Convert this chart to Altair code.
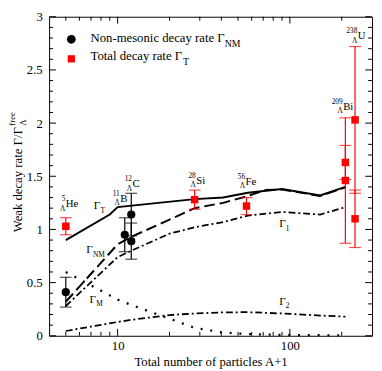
import altair as alt
import pandas as pd

FONT = "Liberation Serif"

# ---------------- theory curves: A+1 and Gamma/Gamma_Lambda^free ----------------
T_x = [5, 9, 10, 28, 41, 57, 90, 150, 210]
T_y = [0.90, 1.14, 1.21, 1.285, 1.30, 1.345, 1.38, 1.32, 1.40]
NM_x = [5, 10, 12, 28, 41, 57, 72, 90, 150, 210]
NM_y = [0.32, 0.86, 0.93, 1.20, 1.25, 1.315, 1.37, 1.375, 1.315, 1.395]
G1_x = [5, 10, 12, 20, 28, 41, 57, 90, 150, 210]
G1_y = [0.28, 0.74, 0.80, 0.96, 1.02, 1.07, 1.13, 1.165, 1.14, 1.21]
M_x = [5, 9, 10, 12, 28, 41, 57, 90, 150, 210]
M_y = [0.60, 0.38, 0.34, 0.29, 0.075, 0.03, 0.016, 0.008, 0.005, 0.004]
G2_x = [5, 10, 12, 20, 28, 41, 57, 90, 150, 210]
G2_y = [0.045, 0.13, 0.15, 0.195, 0.21, 0.22, 0.222, 0.21, 0.19, 0.18]

# ---------------- experimental points ----------------
NMp_x = [5, 11, 12, 12]
NMp_y = [0.41, 0.95, 1.14, 0.89]
NMp_err = [0.14, 0.16, 0.20, 0.17]
Tp_x = [5, 28, 56, 210, 210, 239, 239]
Tp_y = [1.03, 1.28, 1.22, 1.63, 1.46, 2.03, 1.10]
Tp_err = [0.08, 0.09, 0.08, 0.16, 0.59, 0.69, 0.27]

# ---------------- annotations ----------------
nuc_sym = ["He", "B", "C", "Si", "Fe", "Bi", "U"]
nuc_mass = ["5", "11", "12", "28", "56", "209", "238"]
nuc_x = [5.0, 10.35, 12.2, 28.6, 55.3, 204, 248]
nuc_y = [1.21, 1.26, 1.398, 1.428, 1.419, 2.124, 2.79]

gam_sub = ["T", "NM", "M", "1", "2"]
gam_x = [7.27, 6.58, 6.87, 86.7, 86.7]
gam_y = [1.188, 0.774, 0.309, 1.022, 0.293]

# ---------------- axis ticks ----------------
x_major = [10, 100]
x_minor = [5, 6, 7, 8, 9, 20, 30, 40, 50, 60, 70, 80, 90, 200]
y_major = [0, 0.5, 1, 1.5, 2, 2.5, 3]
y_minor = [round(i * 0.1, 1) for i in range(31) if i % 5 != 0]

W, H = 330, 326

xscale = alt.Scale(type="log", domain=[4, 300], nice=False)
yscale = alt.Scale(domain=[0, 3], nice=False, zero=False)
xaxis = alt.Axis(values=x_major, format="d", ticks=False, domain=False, grid=False,
                 labelFont=FONT, labelFontSize=13, labelColor="black", labelPadding=4,
                 labelFlush=False, title="Total number of particles A+1", titleFont=FONT,
                 titleFontSize=13, titleFontWeight="normal", titleColor="black", titlePadding=3)
yaxis = alt.Axis(values=y_major, format="~g", ticks=False, domain=False, grid=False,
                 labelFont=FONT, labelFontSize=13, labelColor="black", labelPadding=7,
                 title=None)


def X(f):
    return alt.X(f, type="quantitative", scale=xscale, axis=xaxis)


def Y(f):
    return alt.Y(f, type="quantitative", scale=yscale, axis=yaxis)


def curve(xs, ys, **kw):
    df = pd.DataFrame({"x": xs, "y": ys})
    return alt.Chart(df).mark_line(color="black", **kw).encode(x=X("x"), y=Y("y"))


layers = []
layers.append(curve(M_x, M_y, strokeWidth=2.3, strokeDash=[2, 8]))
layers.append(curve(G2_x, G2_y, strokeWidth=1.8, strokeDash=[7, 3, 2, 3]))
layers.append(curve(G1_x, G1_y, strokeWidth=1.8, strokeDash=[7, 3, 2, 3]))
layers.append(curve(NM_x, NM_y, strokeWidth=2, strokeDash=[11, 5]))
layers.append(curve(T_x, T_y, strokeWidth=2))


def errbars(xs, ys, es, color):
    df = pd.DataFrame({"x": xs, "y": ys, "e": es})
    df["lo"] = df["y"] - df["e"]
    df["hi"] = df["y"] + df["e"]
    caps = pd.DataFrame({"x": list(df["x"]) * 2, "c": list(df["lo"]) + list(df["hi"])})
    r = alt.Chart(df).mark_rule(color=color, strokeWidth=1.2).encode(
        x=X("x"), y=Y("lo"), y2="hi")
    c = alt.Chart(caps).mark_tick(color=color, orient="horizontal", size=12, thickness=1.2).encode(
        x=X("x"), y=Y("c"))
    return [r, c]


layers += errbars(NMp_x, NMp_y, NMp_err, "black")
layers += errbars(Tp_x, Tp_y, Tp_err, "#ff0000")

layers.append(alt.Chart(pd.DataFrame({"x": NMp_x, "y": NMp_y})).mark_point(
    shape="circle", filled=True, size=70, color="black", opacity=1).encode(x=X("x"), y=Y("y")))
layers.append(alt.Chart(pd.DataFrame({"x": Tp_x, "y": Tp_y})).mark_square(
    size=58, color="#ff0000", opacity=1).encode(x=X("x"), y=Y("y")))

# nucleus labels
nuc = pd.DataFrame({"x": nuc_x, "y": nuc_y, "s": nuc_sym, "m": nuc_mass, "l": ["Λ"] * len(nuc_sym)})
layers.append(alt.Chart(nuc).mark_text(font=FONT, fontSize=11, align="left", baseline="alphabetic",
                                      color="black").encode(x=X("x"), y=Y("y"), text="s:N"))
layers.append(alt.Chart(nuc).mark_text(font=FONT, fontSize=7.5, align="right", baseline="alphabetic",
                                      dx=-0.5, dy=-6, color="black").encode(x=X("x"), y=Y("y"), text="m:N"))
layers.append(alt.Chart(nuc).mark_text(font=FONT, fontSize=7.5, align="right", baseline="alphabetic",
                                      dx=-0.5, dy=3.5, color="black").encode(x=X("x"), y=Y("y"), text="l:N"))

# Gamma labels
gam = pd.DataFrame({"x": gam_x, "y": gam_y, "s": gam_sub, "g": ["Γ"] * len(gam_sub)})
layers.append(alt.Chart(gam).mark_text(font=FONT, fontSize=11.5, align="left", baseline="alphabetic",
                                      color="black").encode(x=X("x"), y=Y("y"), text="g:N"))
layers.append(alt.Chart(gam).mark_text(font=FONT, fontSize=7.5, align="left", baseline="alphabetic",
                                      dx=6.8, dy=3.5, color="black").encode(x=X("x"), y=Y("y"), text="s:N"))


# ticks (inward, all four sides)
def yt(vals, x0, x1):
    return alt.Chart(pd.DataFrame({"v": vals})).mark_rule(color="black", strokeWidth=1).encode(
        y=Y("v"), x=alt.value(x0), x2=alt.value(x1))


def xt(vals, y0, y1):
    return alt.Chart(pd.DataFrame({"v": vals})).mark_rule(color="black", strokeWidth=1).encode(
        x=X("v"), y=alt.value(y0), y2=alt.value(y1))


layers += [yt(y_major, 0, 7), yt(y_minor, 0, 4), yt(y_major, W, W - 7), yt(y_minor, W, W - 4)]
layers += [xt(x_major, H, H - 7), xt(x_minor, H, H - 4), xt(x_major, 0, 7), xt(x_minor, 0, 4)]

one = pd.DataFrame({"a": [0]})


def ptext(txt, x, y, size, angle=0, align="left"):
    kw = dict(font=FONT, fontSize=size, align=align, baseline="alphabetic", color="black", text=txt)
    if angle:
        kw["angle"] = angle
    return alt.Chart(one).mark_text(**kw).encode(x=alt.value(x), y=alt.value(y))


# legend
layers.append(alt.Chart(one).mark_point(shape="circle", filled=True, size=80, color="black",
                                        opacity=1).encode(x=alt.value(22.7), y=alt.value(23)))
layers.append(alt.Chart(one).mark_square(size=55, color="#ff0000", opacity=1).encode(
    x=alt.value(22.7), y=alt.value(43)))
layers.append(ptext("Non-mesonic decay rate Γ", 42.3, 26, 13))
layers.append(ptext("NM", 179.4, 31, 10))
layers.append(ptext("Total decay rate Γ", 42.3, 44.7, 13))
layers.append(ptext("T", 136.8, 49.5, 10))

# y axis title
layers.append(ptext("Weak decay rate Γ/Γ", -28, 220.3, 13, angle=270))
layers.append(ptext("Λ", -24, 111.3, 9, angle=270))
layers.append(ptext("free", -35, 111.3, 9, angle=270))

chart = alt.layer(*layers).properties(
    width=W, height=H,
    autosize=alt.AutoSizeParams(type="none"),
    padding={"left": 42, "top": 5, "right": 2, "bottom": 30},
).configure_view(stroke="black", strokeWidth=1)

chart.save("out.html", embed_options={"renderer": "svg", "actions": False})
